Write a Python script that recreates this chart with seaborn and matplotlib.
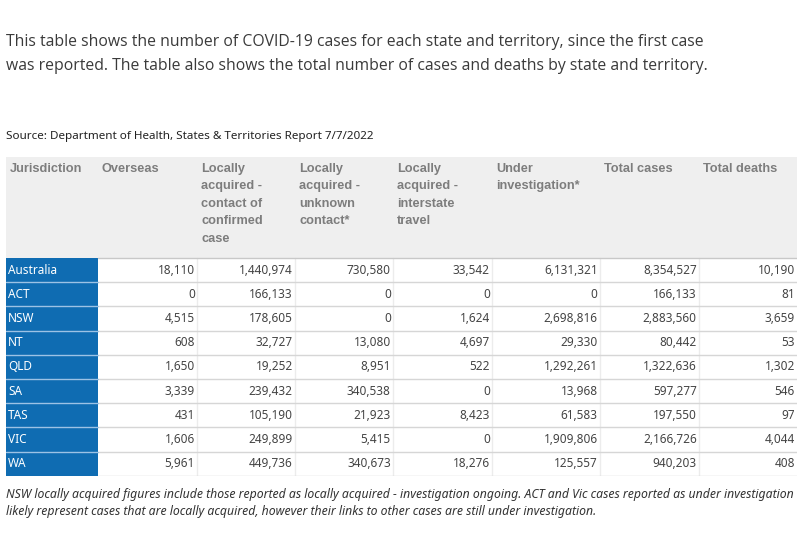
import matplotlib
matplotlib.use("Agg")
import matplotlib.pyplot as plt
import seaborn as sns

# data
jurisdictions = ["Australia", "ACT", "NSW", "NT", "QLD", "SA", "TAS", "VIC", "WA"]
overseas = [18110, 0, 4515, 608, 1650, 3339, 431, 1606, 5961]
local_contact = [1440974, 166133, 178605, 32727, 19252, 239432, 105190, 249899, 449736]
local_unknown = [730580, 0, 0, 13080, 8951, 340538, 21923, 5415, 340673]
local_interstate = [33542, 0, 1624, 4697, 522, 0, 8423, 0, 18276]
under_investigation = [6131321, 0, 2698816, 29330, 1292261, 13968, 61583, 1909806, 125557]
total_cases = [8354527, 166133, 2883560, 80442, 1322636, 597277, 197550, 2166726, 940203]
total_deaths = [10190, 81, 3659, 53, 1302, 546, 97, 4044, 408]

headers = ["Jurisdiction", "Overseas",
           "Locally\nacquired -\ncontact of\nconfirmed\ncase",
           "Locally\nacquired -\nunknown\ncontact*",
           "Locally\nacquired -\ninterstate\ntravel",
           "Under\ninvestigation*", "Total cases", "Total deaths"]

intro = ("This table shows the number of COVID-19 cases for each state and territory, since the first case\n"
         "was reported. The table also shows the total number of cases and deaths by state and territory.")
source = "Source: Department of Health, States & Territories Report 7/7/2022"
note = ("NSW locally acquired figures include those reported as locally acquired - investigation ongoing. ACT and Vic cases reported as under investigation\n"
        "likely represent cases that are locally acquired, however their links to other cases are still under investigation.")

BLUE = "#0f6cb2"
HEAD_BG = "#efefef"
col_widths = [92, 99, 98, 98, 99, 108, 99, 98]
head_h, row_h = 101, 24.2

sns.set_theme(style="white")
plt.rcParams["font.family"] = ["Noto Sans", "DejaVu Sans"]

fig = plt.figure(figsize=(8, 5.33), dpi=100)
W, H = 800, 533

fig.text(6 / W, 1 - 54 / H, intro, fontsize=11.3, color="#3a3a3a", va="center",
         linespacing=1.75, family="Open Sans")
fig.text(6 / W, 1 - 137 / H, source, fontsize=8.4, color="#222222", va="center")
fig.text(6 / W, 1 - 503 / H, note, fontsize=8.8, color="#333333", va="center",
         style="italic", linespacing=1.38)

tbl_top, tbl_bottom = 157, 157 + head_h + row_h * len(jurisdictions)
ax = fig.add_axes([6 / W, 1 - tbl_bottom / H, sum(col_widths) / W, (tbl_bottom - tbl_top) / H])
ax.set_axis_off()

columns = [overseas, local_contact, local_unknown, local_interstate,
           under_investigation, total_cases, total_deaths]
cell_text = [[jurisdictions[i]] + [f"{c[i]:,}" for c in columns] for i in range(len(jurisdictions))]
cell_text = [[""] * len(headers)] + cell_text

total_w = sum(col_widths)
rel_w = [w / total_w for w in col_widths]
table = ax.table(cellText=cell_text, colWidths=rel_w, bbox=[0, 0, 1, 1], cellLoc="right")
table.auto_set_font_size(False)

total_h = head_h + row_h * len(jurisdictions)
for (r, c), cell in table.get_celld().items():
    cell.set_height(head_h / total_h if r == 0 else row_h / total_h)
    cell.set_linewidth(0)
    cell.PAD = 0.022
    txt = cell.get_text()
    txt.set_fontsize(8.5)
    txt.set_color("#444444")
    if r == 0:
        cell.set_facecolor(HEAD_BG)
        cell.set_edgecolor(HEAD_BG)
    elif c == 0:
        cell.set_facecolor(BLUE)
        cell.set_edgecolor(BLUE)
        txt.set_color("white")
        txt.set_ha("left")
        cell._loc = "left"
    else:
        cell.set_facecolor("white")
        cell.set_edgecolor("white")

# header labels, top aligned
head_y = 1 - 6 / total_h
x0 = 0
for label, w in zip(headers, col_widths):
    ax.text((x0 + 4) / total_w, head_y, label, transform=ax.transAxes, ha="left", va="top",
            fontsize=9.2, fontweight="bold", color="#7d7d7d", family="Liberation Sans",
            linespacing=1.6)
    x0 += w

# grid lines
ys = [1 - (head_h + i * row_h) / total_h for i in range(len(jurisdictions) + 1)]
blue_end = col_widths[0] / total_w
for i, y in enumerate(ys):
    ax.axhline(y, xmin=blue_end, xmax=1, color="#d6d6d6" if i else "#c8c8c8", lw=1, zorder=5)
    if 0 < i < len(jurisdictions):
        ax.axhline(y, xmin=0, xmax=blue_end, color="#9cc2e5", lw=1, zorder=5)
x0 = col_widths[0]
for w in col_widths[1:-1]:
    x0 += w
    ax.axvline(x0 / total_w, ymin=0, ymax=ys[0], color="#ececec", lw=1, zorder=4)

fig.savefig("out.png", dpi=100)
